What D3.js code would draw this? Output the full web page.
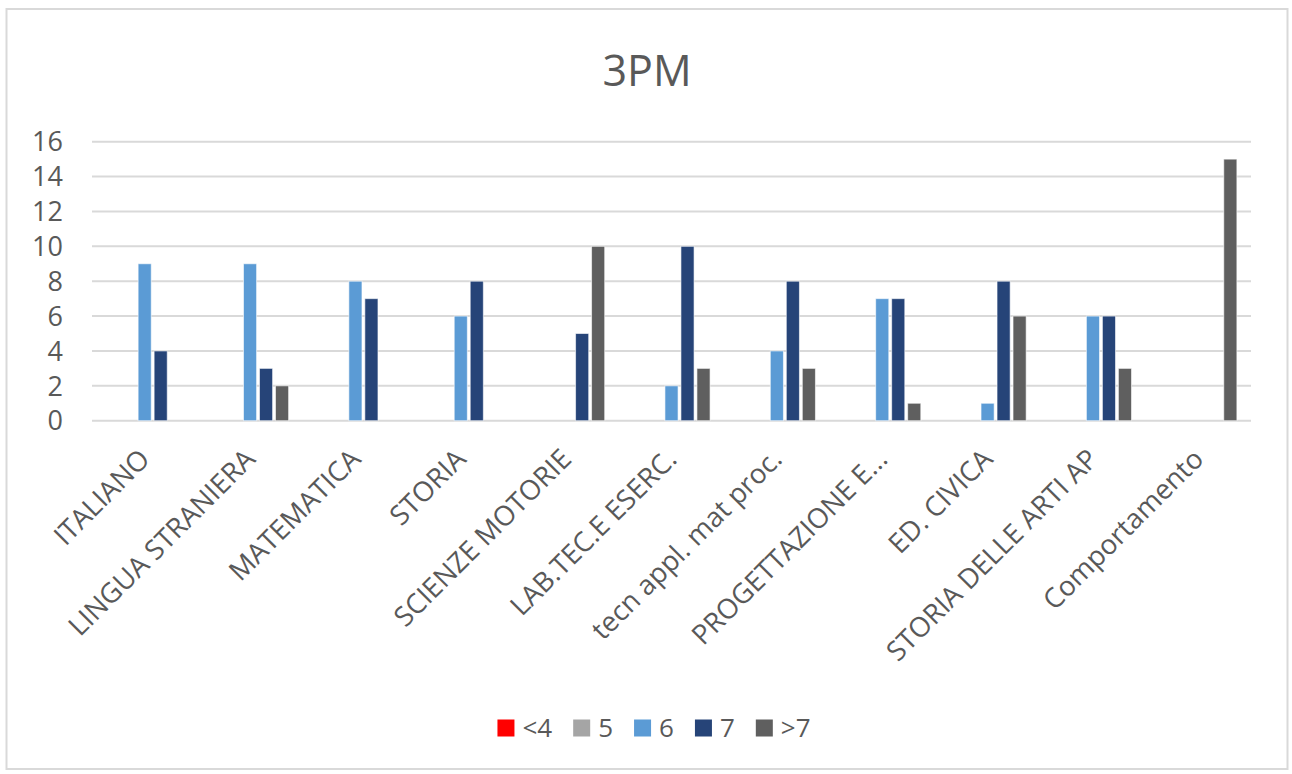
<!DOCTYPE html>
<html>
<head>
<meta charset="utf-8">
<script src="https://cdn.jsdelivr.net/npm/d3@7"></script>
<style>
  body { margin: 0; background: #fff; }
  text { font-family: "Open Sans", sans-serif; fill: #595959; }
</style>
</head>
<body>
<svg width="1292" height="774"></svg>
<script>
let categories = ['ITALIANO', 'LINGUA STRANIERA', 'MATEMATICA', 'STORIA', 'SCIENZE MOTORIE',
  'LAB.TEC.E ESERC.', 'tecn appl. mat proc.', 'PROGETTAZIONE E...', 'ED. CIVICA',
  'STORIA DELLE ARTI AP', 'Comportamento'];
let series = ['<4', '5', '6', '7', '>7'];
let colors = ['#ff0000', '#a5a5a5', '#5b9bd5', '#264478', '#5f5f5f'];

let valsLt4 = [0, 0, 0, 0, 0, 0, 0, 0, 0, 0, 0];
let vals5 = [0, 0, 0, 0, 0, 0, 0, 0, 0, 0, 0];
let vals6 = [9, 9, 8, 6, 0, 2, 4, 7, 1, 6, 0];
let vals7 = [4, 3, 7, 8, 5, 10, 8, 7, 8, 6, 0];
let valsGt7 = [0, 2, 0, 0, 10, 3, 3, 1, 6, 3, 15];
let yTicks = [0, 2, 4, 6, 8, 10, 12, 14, 16];

let allVals = [valsLt4, vals5, vals6, vals7, valsGt7];

let svg = d3.select('svg');

// chart frame
svg.append('rect')
  .attr('x', 6.5).attr('y', 9)
  .attr('width', 1281).attr('height', 760)
  .attr('fill', '#fff')
  .attr('stroke', '#d9d9d9')
  .attr('stroke-width', 2);

svg.append('text')
  .attr('x', 647).attr('y', 86)
  .attr('text-anchor', 'middle')
  .style('font-size', '43px')
  .text('3PM');

let plotL = 92, plotR = 1251, plotT = 141.7, plotB = 420.7;

let x0 = d3.scaleBand().domain(categories).range([plotL, plotR]);
let bw = x0.bandwidth();
let x1 = d3.scaleBand().domain(series)
  .range([bw / 2 - 40, bw / 2 + 40])
  .paddingInner(0.18).paddingOuter(0.09);
let y = d3.scaleLinear().domain([0, 16]).range([plotB, plotT]);

// gridlines
svg.append('g')
  .selectAll('line')
  .data(yTicks)
  .enter()
  .append('line')
  .attr('x1', plotL).attr('x2', plotR)
  .attr('y1', d => y(d)).attr('y2', d => y(d))
  .attr('stroke', '#d9d9d9')
  .attr('stroke-width', 2);

// y tick labels
svg.append('g')
  .selectAll('text')
  .data(yTicks)
  .enter()
  .append('text')
  .attr('x', 63)
  .attr('y', d => y(d))
  .attr('dy', '0.36em')
  .attr('text-anchor', 'end')
  .style('font-size', '27px')
  .text(d => d);

// bars
let groups = svg.append('g')
  .selectAll('g')
  .data(categories)
  .enter()
  .append('g')
  .attr('transform', d => 'translate(' + x0(d) + ',0)');

groups.selectAll('rect')
  .data((c, i) => series.map((s, j) => ({ s: s, v: allVals[j][i], color: colors[j] })).filter(d => d.v > 0))
  .enter()
  .append('rect')
  .attr('x', d => x1(d.s))
  .attr('width', x1.bandwidth())
  .attr('y', d => y(d.v))
  .attr('height', d => y(0) - y(d.v))
  .attr('fill', d => d.color)
  .attr('stroke', '#ffffff')
  .attr('stroke-opacity', 0.6)
  .attr('stroke-width', 1);

// category labels
svg.append('g')
  .selectAll('text')
  .data(categories)
  .enter()
  .append('text')
  .attr('transform', d => 'translate(' + (x0(d) + bw / 2) + ',454) rotate(-45)')
  .attr('text-anchor', 'end')
  .attr('dy', '0.35em')
  .style('font-size', '27.5px')
  .text(d => d);

// legend
let legend = svg.append('g');
let items = legend.selectAll('g')
  .data(series)
  .enter()
  .append('g');
items.append('rect')
  .attr('width', 17).attr('height', 17)
  .attr('y', -8.5)
  .attr('fill', (d, i) => colors[i]);
items.append('text')
  .attr('x', 25)
  .attr('dy', '0.36em')
  .style('font-size', '26px')
  .text(d => d);

let xPos = 0;
items.each(function() {
  let g = d3.select(this);
  let w = 25 + g.select('text').node().getComputedTextLength();
  g.attr('transform', 'translate(' + xPos + ',0)');
  xPos += w + 21;
});
let legendW = xPos - 21;
legend.attr('transform', 'translate(' + (654 - legendW / 2) + ',728)');
</script>
</body>
</html>
